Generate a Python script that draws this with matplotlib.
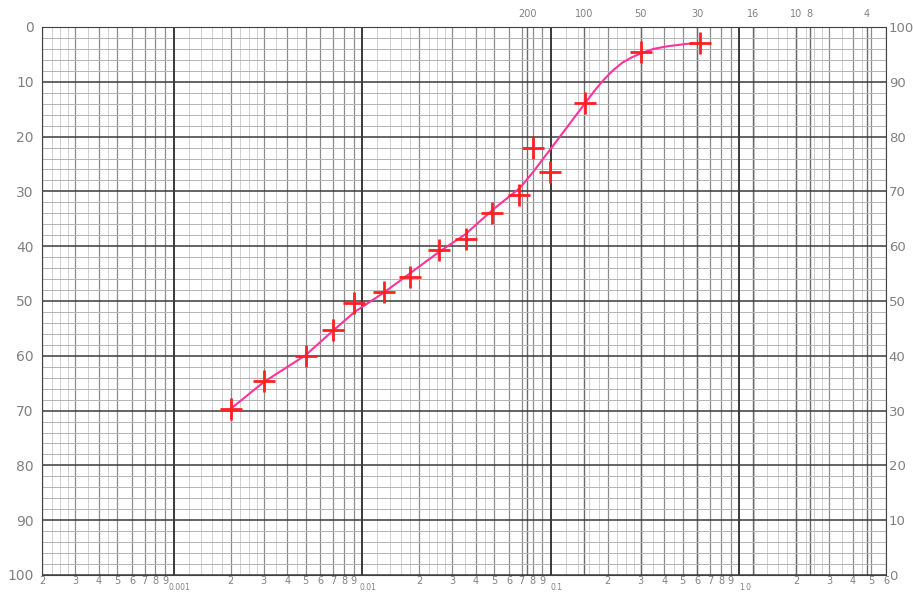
import matplotlib
matplotlib.use('Agg')
import matplotlib.pyplot as plt
from matplotlib.transforms import ScaledTranslation

# grain size (mm) and percent retained
grain_mm = [0.002, 0.003, 0.005, 0.007, 0.009, 0.0131, 0.018, 0.0254, 0.0353,
            0.049, 0.068, 0.080, 0.099, 0.151, 0.301, 0.62]
retained = [69.7, 64.6, 60.0, 55.3, 50.4, 48.4, 45.6, 40.7, 38.7,
            33.9, 30.7, 22.1, 26.5, 13.9, 4.6, 2.9]

# fitted curve
curve_mm = [0.002, 0.003, 0.005, 0.0069, 0.0091, 0.0131, 0.018, 0.0254, 0.0353,
            0.049, 0.0684, 0.080, 0.099, 0.125, 0.152, 0.17, 0.19, 0.214, 0.24,
            0.27, 0.301, 0.35, 0.419, 0.52, 0.621]
curve_ret = [69.7, 64.8, 59.9, 55.6, 52.0, 48.4, 44.9, 41.1, 37.8,
             33.4, 29.4, 26.6, 22.4, 17.8, 13.9, 11.7, 9.7, 7.9, 6.5,
             5.5, 4.8, 4.0, 3.5, 3.1, 2.9]

# sieve numbers on top
sieve_mm = [0.075, 0.15, 0.3, 0.6, 1.18, 2.0, 2.36, 4.75]
sieve_no = ['200', '100', '50', '30', '16', '10', '8', '4']

decades = [0.001, 0.01, 0.1, 1.0]
decade_labels = ['0.001', '0.01', '0.1', '1.0']
mults = [2, 3, 4, 5, 6, 7, 8, 9]
subs = [1.2, 1.4, 1.6, 1.8, 2.25, 2.5, 2.75, 3.5, 4.5]

fig = plt.figure(figsize=(9.13, 5.92), dpi=100)
ax = fig.add_axes([42 / 913, 1 - 575 / 592, (886 - 42) / 913, (575 - 27) / 592])
ax.set_xscale('log')
ax.set_xlim(0.0002, 6)
ax.set_ylim(100, 0)

# grid like log paper
for d in [0.0001] + decades:
    for s in subs:
        ax.axvline(d * s, color='#cfcfcf', lw=0.7, zorder=1)
    for m in mults:
        ax.axvline(d * m, color='#8c8c8c', lw=0.9, zorder=1)
for d in decades:
    ax.axvline(d, color='#2a2a2a', lw=1.3, zorder=2)
for s in sieve_mm:
    ax.axvline(s, color='#6a6a6a', lw=1.0, zorder=1)
for y in range(0, 101, 2):
    if y % 10 == 0:
        ax.axhline(y, color='#3a3a3a', lw=1.1, zorder=2)
    else:
        ax.axhline(y, color='#b4b4b4', lw=0.7, zorder=1)

ax.plot(curve_mm, curve_ret, color='#ff3399', lw=1.5, zorder=3)
ax.plot(grain_mm, retained, linestyle='none', marker='+', color='#ff2020',
        markersize=16, markeredgewidth=2, zorder=4)

gray = '#808080'
ax.set_yticks(range(0, 101, 10))
ax.tick_params(axis='y', length=0, labelsize=10, labelcolor=gray, pad=6)

ax.set_xticks(decades)
ax.set_xticklabels(decade_labels)
minor_pos = []
minor_lab = []
for d in [0.0001] + decades:
    for m in mults:
        v = d * m
        if 0.0002 <= v <= 6:
            minor_pos.append(v)
            minor_lab.append(str(m))
ax.set_xticks(minor_pos, minor=True)
ax.set_xticklabels(minor_lab, minor=True)
ax.tick_params(axis='x', which='major', length=0, labelsize=5.5, labelcolor=gray, pad=6)
ax.tick_params(axis='x', which='minor', length=0, labelsize=7, labelcolor=gray, pad=1)
shift = ScaledTranslation(6 / 100, 0, fig.dpi_scale_trans)
for lbl in ax.get_xticklabels():
    lbl.set_transform(lbl.get_transform() + shift)

right = ax.secondary_yaxis('right', functions=(lambda y: 100 - y, lambda y: 100 - y))
right.set_yticks(range(0, 101, 10))
right.tick_params(length=0, labelsize=9.5, labelcolor=gray, pad=2)

top = ax.secondary_xaxis('top')
top.set_xticks(sieve_mm)
top.set_xticklabels(sieve_no)
top.set_xticks([], minor=True)
top.tick_params(length=0, labelsize=7, labelcolor=gray, pad=6)

for sp in ax.spines.values():
    sp.set_color('#404040')
for sp in list(right.spines.values()) + list(top.spines.values()):
    sp.set_visible(False)

fig.savefig('out.png', dpi=100)
